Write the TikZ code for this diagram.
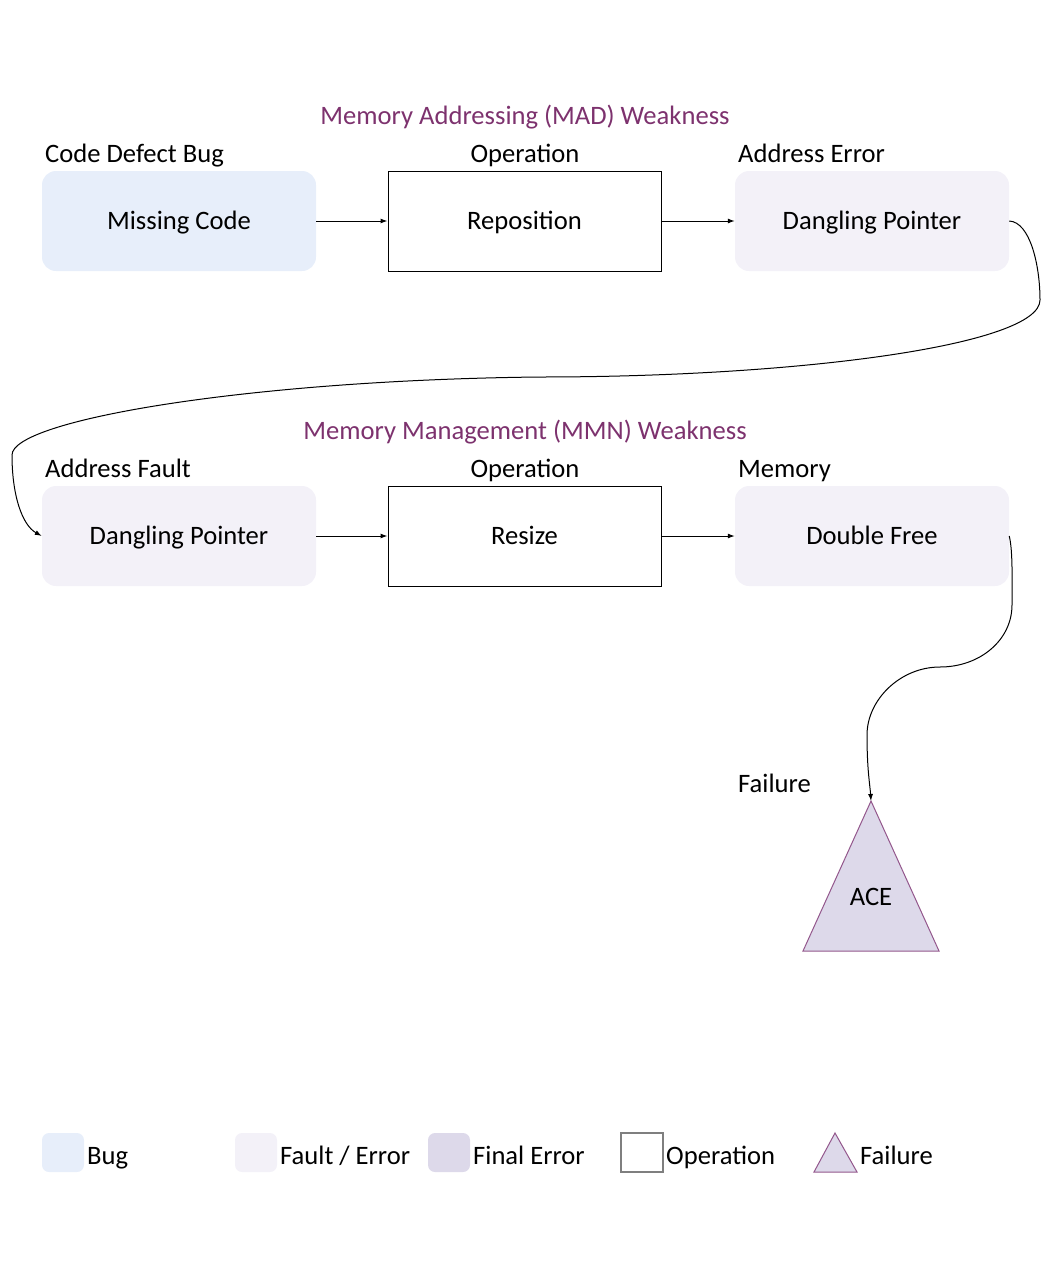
\documentclass[tikz,border=0pt]{standalone}
\usepackage{fontspec}
\setmainfont{Carlito}
\usetikzlibrary{arrows.meta}
\definecolor{bugc}{HTML}{E7EEFA}
\definecolor{faultc}{HTML}{F3F1F8}
\definecolor{finalc}{HTML}{DDD9EA}
\definecolor{titlec}{HTML}{7D326E}
\definecolor{tric}{HTML}{93578C}
\definecolor{opgray}{HTML}{7F7F7F}
\tikzset{
  every node/.style={font=\fontsize{26.6}{30}\selectfont, inner sep=0pt},
  capc/.style={text height=17.1pt, text depth=0pt},
  bigbox/.style={capc, minimum width=274pt, minimum height=100pt, rounded corners=14pt},
  bugbox/.style={bigbox, fill=bugc},
  faultbox/.style={bigbox, fill=faultc},
  opbox/.style={capc, minimum width=273pt, minimum height=100pt, draw=black, line width=1pt, fill=white},
  title/.style={text=titlec},
  lbl/.style={anchor=base west},
  oplbl/.style={anchor=base},
  conn/.style={draw=black, line width=1pt, -{Latex[length=7pt,width=5pt]}},
  legbox/.style={minimum width=42pt, minimum height=39pt, rounded corners=7pt},
  legtxt/.style={anchor=base west},
}
\begin{document}
\begin{tikzpicture}[x=1pt,y=-1pt]
\useasboundingbox (0,0) rectangle (1049,1264);

% Row 1
\node[title] (t1) at (525,117) {Memory Addressing (MAD) Weakness};
\node[lbl] (l11) at (45,162) {Code Defect Bug};
\node[oplbl] (l12) at (525,162) {Operation};
\node[lbl] (l13) at (738,162) {Address Error};
\node[bugbox] (mc) at (179,221) {Missing Code};
\node[opbox] (rep) at (524.5,221) {Reposition};
\node[faultbox] (dp1) at (872,221) {Dangling Pointer};
\draw[conn] (mc.east) -- (rep.west);
\draw[conn] (rep.east) -- (dp1.west);

% Row 2
\node[title] (t2) at (525,432) {Memory Management (MMN) Weakness};
\node[lbl] (l21) at (45,477) {Address Fault};
\node[oplbl] (l22) at (525,477) {Operation};
\node[lbl] (l23) at (738,477) {Memory};
\node[faultbox] (dp2) at (179,536) {Dangling Pointer};
\node[opbox] (rs) at (524.5,536) {Resize};
\node[faultbox] (df) at (872,536) {Double Free};
\draw[conn] (dp2.east) -- (rs.west);
\draw[conn] (rs.east) -- (df.west);

% Long curved connector
\draw[conn] (dp1.east) .. controls (1030,222) and (1040,265) .. (1040,300)
  .. controls (1040,345) and (800,377) .. (540,377)
  .. controls (250,380) and (12,420) .. (12,455)
  .. controls (12,495) and (22,525) .. (dp2.west);

% Failure
\node[lbl] (l3) at (738,792) {Failure};
\coordinate (acetop) at (871,801);
\draw[tric, fill=finalc, line width=1pt] (acetop) -- (939,951) -- (803,951) -- cycle;
\node[capc] (ace) at (871,897) {ACE};
\draw[conn] (df.east) .. controls (1013,550) and (1012,585) .. (1012,605)
  .. controls (1012,640) and (980,667) .. (940,667)
  .. controls (900,667) and (867,700) .. (867,735)
  .. controls (867,770) and (870,785) .. (acetop);

% Legend
\node[legbox, fill=bugc] (lb1) at (63,1152.5) {};
\node[legtxt] (lt1) at (87,1164) {Bug};
\node[legbox, fill=faultc] (lb2) at (256,1152.5) {};
\node[legtxt] (lt2) at (280,1164) {Fault / Error};
\node[legbox, fill=finalc] (lb3) at (449,1152.5) {};
\node[legtxt] (lt3) at (473,1164) {Final Error};
\node[minimum width=42pt, minimum height=39pt, draw=opgray, line width=1.3pt] (lb4) at (642,1152.5) {};
\node[legtxt] (lt4) at (666,1164) {Operation};
\draw[tric, fill=finalc, line width=1pt] (835,1133) -- (857,1172) -- (814,1172) -- cycle;
\node[legtxt] (lt5) at (860,1164) {Failure};
\end{tikzpicture}
\end{document}
